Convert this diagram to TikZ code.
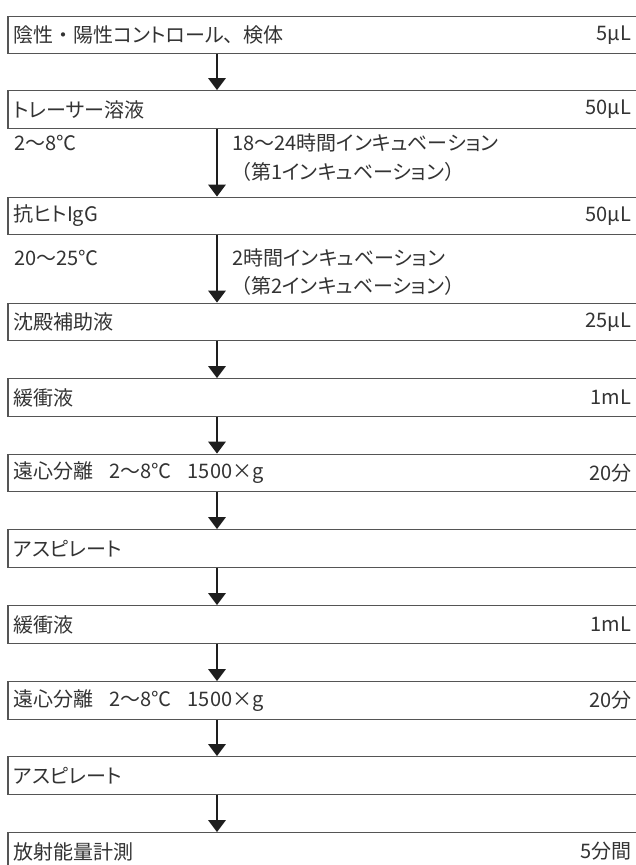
\documentclass[tikz,border=0pt]{standalone}
\usepackage{fontspec}
\setmainfont[RawFeature=+palt]{Noto Sans CJK JP}
\newfontfamily\fwfont{Noto Sans CJK JP}
\newcommand{\fwc}[1]{{\fwfont #1}}
\usetikzlibrary{arrows.meta}
\definecolor{txt}{HTML}{333333}
\definecolor{edge}{HTML}{555555}
\definecolor{arrc}{HTML}{1E1E1E}
\begin{document}
\begin{tikzpicture}[x=0.75pt,y=-0.75pt,
  box/.style={draw=edge, line width=0.95pt, inner sep=0pt, minimum width=519pt, minimum height=28.1pt},
  lbl/.style={inner sep=0pt, text=txt, font=\fontsize{15pt}{18pt}\selectfont},
  arr/.style={draw=arrc, line width=2.2pt, -{Triangle[width=12.75pt,length=9pt]}}]
\useasboundingbox (0,0) rectangle (636,865);
\clip (0,0) rectangle (636,865);
\fill[white] (0,0) rectangle (636,865);
\coordinate (ax) at (217,0);
% boxes
\node[box] (b1) at (354,35) {};
\node[box] (b2) at (354,109.5) {};
\node[box] (b3) at (354,216) {};
\node[box] (b4) at (354,322) {};
\node[box] (b5) at (354,397.5) {};
\node[box] (b6) at (354,473) {};
\node[box] (b7) at (354,548.5) {};
\node[box] (b8) at (354,624.5) {};
\node[box] (b9) at (354,700.5) {};
\node[box] (b10) at (354,775.5) {};
\node[box] (b11) at (354,851.5) {};
% left labels
\node[lbl, anchor=west] (l1) at ([xshift=4.5pt]b1.west) {陰性\fwc{・}陽性コントロール\fwc{、}検体};
\node[lbl, anchor=west] (l2) at ([xshift=4.5pt]b2.west) {トレーサー溶液};
\node[lbl, anchor=west] (l3) at ([xshift=4.5pt]b3.west) {抗ヒトIgG};
\node[lbl, anchor=west] (l4) at ([xshift=4.5pt]b4.west) {沈殿補助液};
\node[lbl, anchor=west] (l5) at ([xshift=4.5pt]b5.west) {緩衝液};
\node[lbl, anchor=west] (l6) at ([xshift=4.5pt]b6.west) {遠心分離\hspace{0.8em}2～8℃\hspace{0.8em}1500×g};
\node[lbl, anchor=west] (l7) at ([xshift=4.5pt]b7.west) {アスピレート};
\node[lbl, anchor=west] (l8) at ([xshift=4.5pt]b8.west) {緩衝液};
\node[lbl, anchor=west] (l9) at ([xshift=4.5pt]b9.west) {遠心分離\hspace{0.8em}2～8℃\hspace{0.8em}1500×g};
\node[lbl, anchor=west] (l10) at ([xshift=4.5pt]b10.west) {アスピレート};
\node[lbl, anchor=west] (l11) at ([xshift=4.5pt]b11.west) {放射能量計測};
% right labels
\node[lbl, anchor=east] (r1) at ([xshift=-51.75pt]b1.east) {5μL};
\node[lbl, anchor=east] (r2) at ([xshift=-51.75pt]b2.east) {50μL};
\node[lbl, anchor=east] (r3) at ([xshift=-51.75pt]b3.east) {50μL};
\node[lbl, anchor=east] (r4) at ([xshift=-51.75pt]b4.east) {25μL};
\node[lbl, anchor=east] (r5) at ([xshift=-51.75pt]b5.east) {1mL};
\node[lbl, anchor=east] (r6) at ([xshift=-51.75pt]b6.east) {20分};
\node[lbl, anchor=east] (r8) at ([xshift=-51.75pt]b8.east) {1mL};
\node[lbl, anchor=east] (r9) at ([xshift=-51.75pt]b9.east) {20分};
\node[lbl, anchor=east] (r11) at ([xshift=-51.75pt]b11.east) {5分間};
% incubation notes
\node[lbl, anchor=west] (c1) at (14,143) {2～8℃};
\node[lbl, anchor=west] (i1a) at (232,143) {18～24時間インキュベーション};
\node[lbl, anchor=west] (i1b) at (231,172) {\fwc{（}第1インキュベーション\fwc{）}};
\node[lbl, anchor=west] (c2) at (14,258) {20～25℃};
\node[lbl, anchor=west] (i2a) at (232,258) {2時間インキュベーション};
\node[lbl, anchor=west] (i2b) at (231,286) {\fwc{（}第2インキュベーション\fwc{）}};
% arrows
\draw[arr] (b1.south -| ax) -- (b2.north -| ax);
\draw[arr] (b2.south -| ax) -- (b3.north -| ax);
\draw[arr] (b3.south -| ax) -- (b4.north -| ax);
\draw[arr] (b4.south -| ax) -- (b5.north -| ax);
\draw[arr] (b5.south -| ax) -- (b6.north -| ax);
\draw[arr] (b6.south -| ax) -- (b7.north -| ax);
\draw[arr] (b7.south -| ax) -- (b8.north -| ax);
\draw[arr] (b8.south -| ax) -- (b9.north -| ax);
\draw[arr] (b9.south -| ax) -- (b10.north -| ax);
\draw[arr] (b10.south -| ax) -- (b11.north -| ax);
\end{tikzpicture}
\end{document}
